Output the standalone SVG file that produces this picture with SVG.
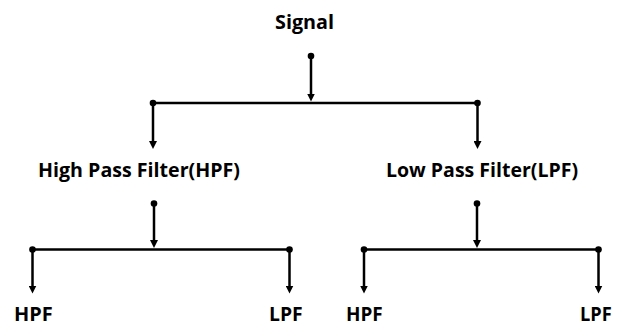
<svg xmlns="http://www.w3.org/2000/svg" width="619" height="324" viewBox="0 0 619 324">
  <defs>
    <style>
      .lbl { font-family: "Open Sans", Lato, "Liberation Sans", sans-serif; font-weight: bold; font-size: 20px; fill: #000; }
      .ln { stroke: #000; stroke-width: 2.5; fill: none; }
      .arr { marker-end: url(#ah); }
      .dot { fill: #000; }
    </style>
    <marker id="ah" markerUnits="userSpaceOnUse" viewBox="0 0 8 8" markerWidth="8" markerHeight="8" refX="1" refY="4" orient="auto">
      <path d="M0,0 L8,4 L0,8 z" fill="#000"/>
    </marker>
  </defs>
  <rect width="619" height="324" fill="#fff"/>

  <g id="connectors">
    <!-- Signal split -->
    <line class="ln arr" x1="311" y1="56" x2="311" y2="94.5"/>
    <line class="ln" x1="153" y1="103" x2="477.5" y2="103"/>
    <line class="ln arr" x1="153" y1="103" x2="153" y2="142"/>
    <line class="ln arr" x1="477.5" y1="103" x2="477.5" y2="142"/>
    <circle class="dot" cx="311" cy="56" r="3.3"/>
    <circle class="dot" cx="153" cy="103" r="3.3"/>
    <circle class="dot" cx="477.5" cy="103" r="3.3"/>

    <!-- HPF split -->
    <line class="ln arr" x1="154" y1="203.5" x2="154" y2="241"/>
    <line class="ln" x1="32.5" y1="249.5" x2="289.5" y2="249.5"/>
    <line class="ln arr" x1="32.5" y1="249.5" x2="32.5" y2="286.5"/>
    <line class="ln arr" x1="289.5" y1="249.5" x2="289.5" y2="286.5"/>
    <circle class="dot" cx="154" cy="203.5" r="3.3"/>
    <circle class="dot" cx="32.5" cy="249.5" r="3.3"/>
    <circle class="dot" cx="289.5" cy="249.5" r="3.3"/>

    <!-- LPF split -->
    <line class="ln arr" x1="477" y1="203.5" x2="477" y2="241"/>
    <line class="ln" x1="364" y1="249.5" x2="598.5" y2="249.5"/>
    <line class="ln arr" x1="364" y1="249.5" x2="364" y2="286.5"/>
    <line class="ln arr" x1="598.5" y1="249.5" x2="598.5" y2="286.5"/>
    <circle class="dot" cx="477" cy="203.5" r="3.3"/>
    <circle class="dot" cx="364" cy="249.5" r="3.3"/>
    <circle class="dot" cx="598.5" cy="249.5" r="3.3"/>
  </g>

  <g id="signal">
    <text class="lbl" x="275" y="28.5" textLength="59" lengthAdjust="spacingAndGlyphs">Signal</text>
  </g>
  <g id="hpf">
    <text class="lbl" x="38" y="177" textLength="202" lengthAdjust="spacingAndGlyphs">High Pass Filter(HPF)</text>
  </g>
  <g id="lpf">
    <text class="lbl" x="386" y="177" textLength="192" lengthAdjust="spacingAndGlyphs">Low Pass Filter(LPF)</text>
  </g>
  <g id="hpf-hpf">
    <text class="lbl" x="14" y="321" textLength="38.7" lengthAdjust="spacingAndGlyphs">HPF</text>
  </g>
  <g id="hpf-lpf">
    <text class="lbl" x="269" y="321" textLength="33.7" lengthAdjust="spacingAndGlyphs">LPF</text>
  </g>
  <g id="lpf-hpf">
    <text class="lbl" x="346" y="321" textLength="36.7" lengthAdjust="spacingAndGlyphs">HPF</text>
  </g>
  <g id="lpf-lpf">
    <text class="lbl" x="580" y="321" textLength="31.7" lengthAdjust="spacingAndGlyphs">LPF</text>
  </g>
</svg>
